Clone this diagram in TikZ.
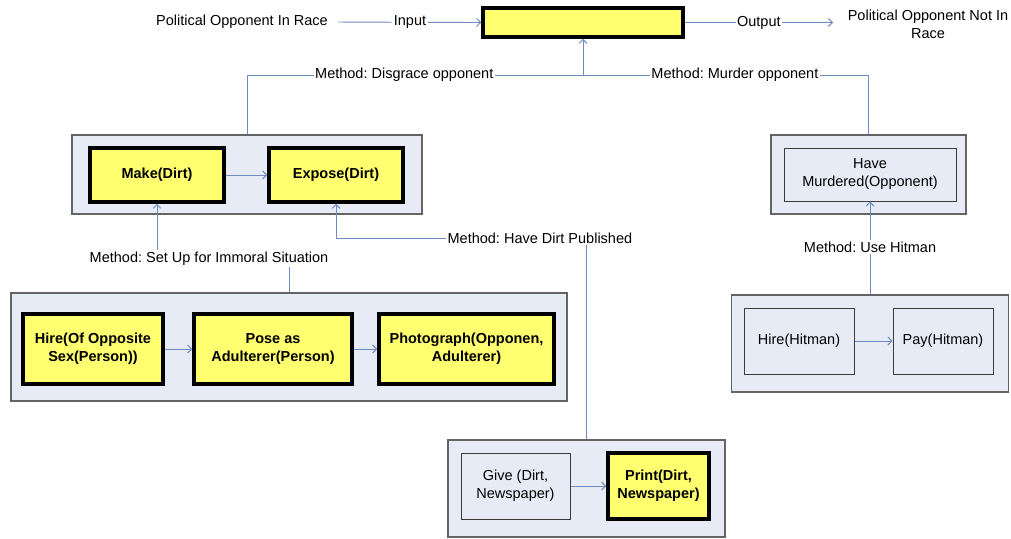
\documentclass[tikz,border=0pt]{standalone}
\usepackage{fontspec}
\setmainfont{Liberation Sans}
\usetikzlibrary{arrows.meta}
\definecolor{connc}{RGB}{110,140,192}
\definecolor{grpfill}{RGB}{230,235,245}
\definecolor{grpdraw}{RGB}{100,100,100}
\definecolor{boxdraw}{RGB}{60,60,60}
\definecolor{yel}{RGB}{255,255,112}
\frenchspacing
\begin{document}
\frenchspacing
\begin{tikzpicture}[x=1pt,y=-1pt,
  every node/.style={font=\fontsize{14.5}{18}\selectfont},
  grp/.style={draw=grpdraw, fill=grpfill, line width=1.3pt, inner sep=0pt},
  ybox/.style={draw=black, fill=yel, line width=3.5pt, inner sep=0pt, align=center, font=\fontsize{14.5}{18}\selectfont\bfseries},
  pbox/.style={draw=boxdraw, fill=grpfill, line width=1pt, inner sep=0pt, align=center},
  lbl/.style={fill=white, inner sep=1.5pt},
  conn/.style={draw=connc, line width=0.9pt},
  arr/.style={conn, -{Straight Barb[length=4pt,width=8pt]}}]
\useasboundingbox (0,0) rectangle (1011,538);

% top row
\node[ybox, minimum width=200pt, minimum height=29pt] (top) at (583,22.5) {};
\node[anchor=east, inner sep=0pt] (intxt) at (328,22) {Political Opponent In Race};
\node[align=center, inner sep=0pt] (outtxt) at (928,24) {Political Opponent Not In\\Race};
\coordinate (outend) at (833,22.5);

% groups
\node[grp, minimum width=350pt, minimum height=79pt] (g1) at (247,174.5) {};
\node[grp, minimum width=195pt, minimum height=79pt] (gm) at (868.5,174.5) {};
\node[grp, minimum width=556pt, minimum height=108pt] (g2) at (289,347) {};
\node[grp, minimum width=277pt, minimum height=97pt] (g3) at (586.5,488.5) {};
\node[grp, minimum width=277pt, minimum height=97pt] (g4) at (870,343.5) {};

% boxes
\node[ybox, minimum width=134pt, minimum height=54pt] (make) at (157,175) {Make(Dirt)};
\node[ybox, minimum width=134pt, minimum height=54pt] (expose) at (336,175) {Expose(Dirt)};
\node[pbox, minimum width=172pt, minimum height=53pt] (murd) at (870,174.5) {Have\\Murdered(Opponent)};
\node[ybox, minimum width=140pt, minimum height=70pt] (hire) at (93,349) {Hire(Of Opposite\\Sex(Person))};
\node[ybox, minimum width=158pt, minimum height=70pt] (pose) at (273,349) {Pose as\\Adulterer(Person)};
\node[ybox, minimum width=175pt, minimum height=70pt] (photo) at (466.5,349) {Photograph(Opponen,\\Adulterer)};
\node[pbox, minimum width=109pt, minimum height=66pt] (give) at (515.5,486) {Give (Dirt,\\Newspaper)};
\node[ybox, minimum width=101pt, minimum height=66pt] (print) at (658.5,486) {Print(Dirt,\\Newspaper)};
\node[pbox, minimum width=110pt, minimum height=66pt] (hireh) at (799,341) {Hire(Hitman)};
\node[pbox, minimum width=100pt, minimum height=66pt] (pay) at (943,341) {Pay(Hitman)};

% top connectors
\draw[arr, shorten <=10pt] (intxt.east) -- node[lbl, pos=0.535]{Input} (top.west);
\draw[arr] (top.east) -- node[lbl]{Output} (outend);

\coordinate (j) at (583,75);
\draw[conn] (g1.north) |- node[lbl, pos=0.734]{Method: Disgrace opponent} (j);
\draw[conn] (gm.north) |- node[lbl, pos=0.734]{Method: Murder opponent} (j);
\draw[arr] (j) -- (top.south);

% method connectors
\draw[arr] (g2.north) -- ++(0,-34) -| node[lbl, pos=0.303]{Method: Set Up for Immoral Situation} (make.south);
\draw[arr] (g3.north) -- ++(0,-201) -| node[lbl, pos=0.093]{Method: Have Dirt Published} (expose.south);
\draw[arr] (g4.north) -- node[lbl, pos=0.51]{Method: Use Hitman} (murd.south);

% in-group arrows
\draw[arr] (make) -- (expose);
\draw[arr] (hire) -- (pose);
\draw[arr] (pose) -- (photo);
\draw[arr] (give) -- (print);
\draw[arr] (hireh) -- (pay);
\end{tikzpicture}
\end{document}
